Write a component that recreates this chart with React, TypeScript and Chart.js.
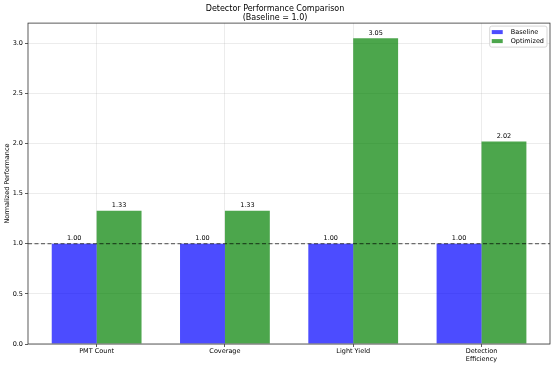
import React, { useEffect, useRef } from 'react';
import { Chart, registerables } from 'chart.js';

Chart.register(...registerables);

const titleLines = ['Detector Performance Comparison', '(Baseline = 1.0)'];
const categories = ['PMT Count', 'Coverage', 'Light Yield', 'Detection\nEfficiency'];
const baselineValues = [1.0, 1.0, 1.0, 1.0];
const optimizedValues = [1.33, 1.33, 3.05, 2.02];
const yTicks = [0, 0.5, 1.0, 1.5, 2.0, 2.5, 3.0];
const referenceValue = 1.0;
const seriesNames = ['Baseline', 'Optimized'];
const yTitle = 'Normalized Performance';

const FONT = 'DejaVu Sans, sans-serif';

const overlayPlugin = {
  id: 'overlay',
  afterDatasetsDraw(chart: any) {
    const { ctx, chartArea } = chart;
    const ys = chart.scales.y;
    ctx.save();
    // reference dashed line
    const yRef = ys.getPixelForValue(referenceValue);
    ctx.strokeStyle = 'rgba(0,0,0,0.7)';
    ctx.lineWidth = 1;
    ctx.setLineDash([4, 2.5]);
    ctx.beginPath();
    ctx.moveTo(chartArea.left, yRef);
    ctx.lineTo(chartArea.right, yRef);
    ctx.stroke();
    ctx.setLineDash([]);

    // value labels
    ctx.fillStyle = '#000';
    ctx.font = `6.5px ${FONT}`;
    ctx.textAlign = 'center';
    ctx.textBaseline = 'bottom';
    chart.data.datasets.forEach((ds: any, di: number) => {
      const meta = chart.getDatasetMeta(di);
      meta.data.forEach((bar: any, i: number) => {
        const v = ds.data[i].y;
        ctx.fillText(v.toFixed(2), bar.x, bar.y - 2);
      });
    });

    // frame
    ctx.strokeStyle = '#333';
    ctx.lineWidth = 0.8;
    ctx.strokeRect(chartArea.left, chartArea.top, chartArea.right - chartArea.left, chartArea.bottom - chartArea.top);

    // legend
    ctx.font = `6.5px ${FONT}`;
    const labels = chart.data.datasets.map((d: any) => d.label);
    const tw = Math.max(...labels.map((l: string) => ctx.measureText(l).width));
    const rowH = 9;
    const boxW = 21 + tw + 3;
    const boxH = 1.5 + rowH * labels.length + 1.5;
    const bx = chartArea.right - 3 - boxW;
    const by = chartArea.top + 3;
    ctx.fillStyle = 'rgba(255,255,255,0.85)';
    ctx.strokeStyle = '#cccccc';
    ctx.lineWidth = 0.8;
    ctx.beginPath();
    if ((ctx as any).roundRect) (ctx as any).roundRect(bx, by, boxW, boxH, 2);
    else ctx.rect(bx, by, boxW, boxH);
    ctx.fill();
    ctx.stroke();
    ctx.textAlign = 'left';
    ctx.textBaseline = 'middle';
    chart.data.datasets.forEach((d: any, i: number) => {
      const cy = by + 1.5 + rowH * i + rowH / 2;
      ctx.fillStyle = d.backgroundColor;
      ctx.fillRect(bx + 2, cy - 2, 11, 4);
      ctx.fillStyle = '#000';
      ctx.fillText(d.label, bx + 21, cy);
    });
    ctx.restore();
  },
};

export default function App() {
  const canvasRef = useRef<HTMLCanvasElement | null>(null);

  useEffect(() => {
    const canvas = canvasRef.current;
    if (!canvas) return;
    const chart = new Chart(canvas, {
      type: 'bar',
      data: {
        datasets: [
          {
            label: seriesNames[0],
            data: baselineValues.map((v, i) => ({ x: i, y: v })),
            backgroundColor: 'rgba(0,0,255,0.7)',
            borderWidth: 0,
          },
          {
            label: seriesNames[1],
            data: optimizedValues.map((v, i) => ({ x: i, y: v })),
            backgroundColor: 'rgba(0,128,0,0.7)',
            borderWidth: 0,
          },
        ],
      },
      options: {
        animation: false,
        responsive: false,
        maintainAspectRatio: false,
        devicePixelRatio: 1,
        datasets: { bar: { categoryPercentage: 0.7, barPercentage: 1.0 } },
        layout: { padding: { left: 0, right: 5, top: 0, bottom: 0 } },
        plugins: {
          legend: { display: false },
          tooltip: { enabled: false },
          title: {
            display: true,
            text: titleLines,
            color: '#000',
            font: { family: FONT, size: 8, weight: 'normal', lineHeight: 1.1 },
            padding: { top: 4.5, bottom: 1 },
          },
        },
        scales: {
          x: {
            type: 'linear',
            min: -0.535,
            max: categories.length - 1 + 0.534,
            offset: false,
            afterBuildTicks: (axis: any) => {
              axis.ticks = categories.map((_, i) => ({ value: i }));
            },
            afterFit: (scale: any) => {
              scale.height = 23;
            },
            ticks: {
              autoSkip: false,
              maxRotation: 0,
              padding: 1,
              color: '#000',
              font: { family: FONT, size: 6.5, lineHeight: 1.15 },
              callback: (v: any) => {
                const c = categories[Math.round(v)];
                return c ? c.split('\n') : '';
              },
            },
            grid: {
              offset: false,
              color: 'rgba(176,176,176,0.3)',
              lineWidth: 0.8,
              tickColor: '#333',
              tickLength: 3,
            },
            border: { display: false },
          },
          y: {
            min: 0,
            max: 3.2,
            afterBuildTicks: (axis: any) => {
              axis.ticks = yTicks.map((v) => ({ value: v }));
            },
            afterFit: (scale: any) => {
              scale.width = 28;
            },
            ticks: {
              padding: 2,
              color: '#000',
              font: { family: FONT, size: 6.5 },
              callback: (v: any) => Number(v).toFixed(1),
            },
            grid: {
              color: 'rgba(176,176,176,0.3)',
              lineWidth: 0.8,
              tickColor: '#333',
              tickLength: 3,
            },
            border: { display: false },
            title: {
              display: true,
              text: yTitle,
              color: '#000',
              font: { family: FONT, size: 6.5 },
              padding: { top: 3, bottom: 0 },
            },
          },
        },
      },
      plugins: [overlayPlugin],
    } as any);
    return () => chart.destroy();
  }, []);

  return (
    <div style={{ position: 'absolute', left: 0, top: 0, width: 555, height: 367, background: '#fff' }}>
      <canvas ref={canvasRef} width={555} height={367} style={{ display: 'block', width: 555, height: 367 }} />
    </div>
  );
}
